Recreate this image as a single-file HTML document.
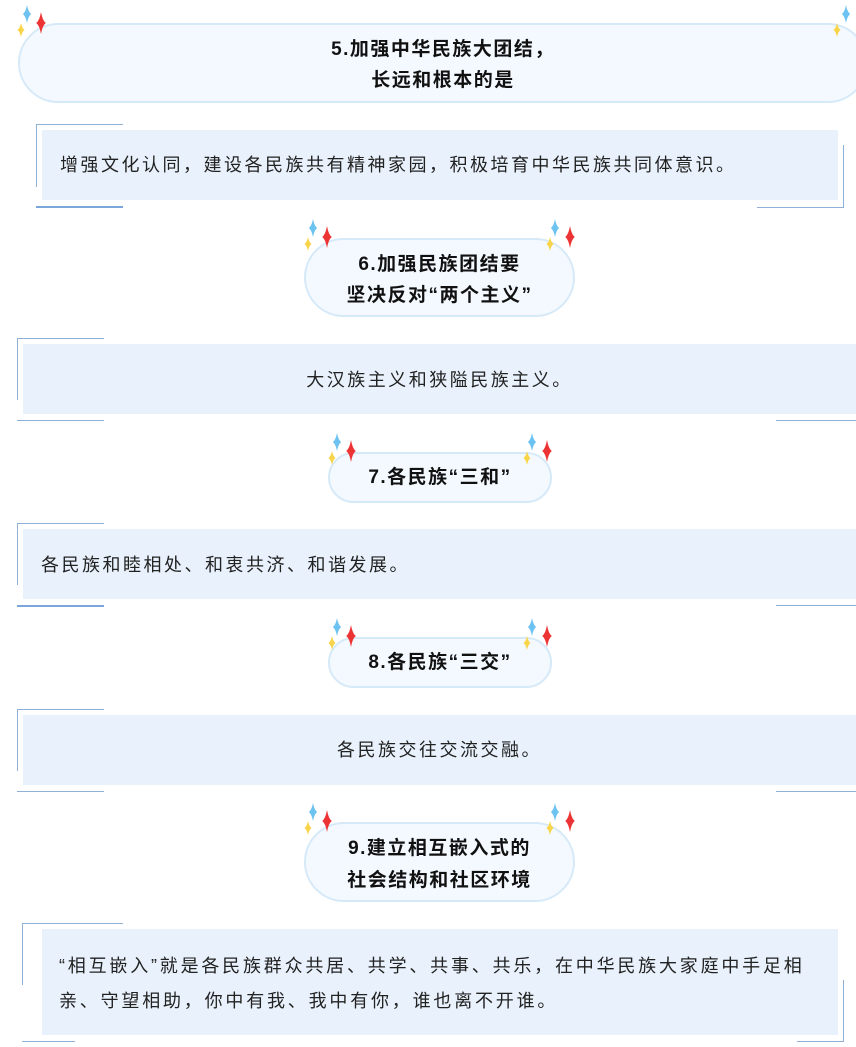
<!DOCTYPE html>
<html><head><meta charset="utf-8"><style>
body{margin:0;width:856px;height:1047px;background:#fff;position:relative;overflow:hidden;font-family:"Liberation Sans","Noto Sans CJK SC",sans-serif;color:#111}
.a{position:absolute}
.pill{position:absolute;box-sizing:border-box;background:#f3f9fe;border:2px solid #d6e9f8;border-radius:40px;text-align:center;font-weight:bold;font-size:19px;letter-spacing:1.5px;color:#111}
.box{position:absolute;background:#e9f2fc;font-size:18px;letter-spacing:2.5px;color:#222;white-space:nowrap}
.h{position:absolute;height:1px;background:#8fb1d8}
.v{position:absolute;width:1px;background:#8fb1d8}
</style></head><body>
<svg width="0" height="0" style="position:absolute"><defs>
<path id="st" d="M0,-1 Q0.2,-0.2 0.6,0 Q0.2,0.2 0,1 Q-0.2,0.2 -0.6,0 Q-0.2,-0.2 0,-1Z"/>
</defs></svg>

<div class="pill" style="left:18px;top:23px;width:850px;height:80px;padding-top:9px;line-height:31px">5.加强中华民族大团结，<br>长远和根本的是</div>

<div class="box" style="left:42px;top:130px;width:796px;height:70px;line-height:70px;padding-left:18px;box-sizing:border-box">增强文化认同，建设各民族共有精神家园，积极培育中华民族共同体意识。</div>
<div class="h" style="left:36px;top:124px;width:87px"></div>
<div class="v" style="left:36px;top:124px;height:63px"></div>
<div class="h" style="left:36px;top:206px;width:87px;height:2px;background:#7aa6dc"></div>
<div class="v" style="left:843px;top:145px;height:62px"></div>
<div class="h" style="left:757px;top:207px;width:87px"></div>

<div class="pill" style="left:304px;top:238px;width:271px;height:79px;padding-top:9px;line-height:31px">6.加强民族团结要<br>坚决反对“两个主义”</div>

<div class="box" style="left:23px;top:344px;width:833px;height:70px;line-height:72px;text-align:center">大汉族主义和狭隘民族主义。</div>
<div class="h" style="left:17px;top:338px;width:87px"></div>
<div class="v" style="left:17px;top:338px;height:62px"></div>
<div class="h" style="left:17px;top:420px;width:87px"></div>
<div class="h" style="left:776px;top:420px;width:80px"></div>

<div class="pill" style="left:328px;top:452px;width:224px;height:51px;line-height:47px">7.各民族“三和”</div>

<div class="box" style="left:23px;top:529px;width:833px;height:70px;line-height:72px;padding-left:18px;box-sizing:border-box">各民族和睦相处、和衷共济、和谐发展。</div>
<div class="h" style="left:17px;top:523px;width:87px"></div>
<div class="v" style="left:17px;top:523px;height:62px"></div>
<div class="h" style="left:17px;top:605px;width:87px;height:2px;background:#7aa6dc"></div>
<div class="h" style="left:776px;top:605px;width:80px"></div>

<div class="pill" style="left:328px;top:637px;width:224px;height:51px;line-height:47px">8.各民族“三交”</div>

<div class="box" style="left:23px;top:715px;width:833px;height:70px;line-height:70px;text-align:center">各民族交往交流交融。</div>
<div class="h" style="left:17px;top:709px;width:87px"></div>
<div class="v" style="left:17px;top:709px;height:62px"></div>
<div class="h" style="left:17px;top:791px;width:87px"></div>
<div class="h" style="left:776px;top:791px;width:80px"></div>

<div class="pill" style="left:304px;top:822px;width:271px;height:80px;padding-top:9px;line-height:32px">9.建立相互嵌入式的<br>社会结构和社区环境</div>

<div class="box" style="left:42px;top:929px;width:796px;height:106px;padding:20px 0 0 17px;box-sizing:border-box;line-height:35px;letter-spacing:2.8px">“相互嵌入”就是各民族群众共居、共学、共事、共乐，在中华民族大家庭中手足相<br>亲、守望相助，你中有我、我中有你，谁也离不开谁。</div>
<div class="h" style="left:22px;top:923px;width:101px"></div>
<div class="v" style="left:22px;top:923px;height:62px"></div>
<div class="h" style="left:22px;top:1041px;width:53px"></div>
<div class="v" style="left:843px;top:980px;height:61px"></div>
<div class="h" style="left:797px;top:1041px;width:47px"></div>

<svg class="a" style="left:0;top:0" width="856" height="1047">
<g fill="#6cc2f0">
<use href="#st" transform="translate(27,14) scale(7,9)"/>
<use href="#st" transform="translate(846,14) scale(7,9)"/>
<use href="#st" transform="translate(313,228) scale(7,9)"/>
<use href="#st" transform="translate(555,228) scale(7,9)"/>
<use href="#st" transform="translate(337,442) scale(7,9)"/>
<use href="#st" transform="translate(532,442) scale(7,9)"/>
<use href="#st" transform="translate(337,627) scale(7,9)"/>
<use href="#st" transform="translate(532,627) scale(7,9)"/>
<use href="#st" transform="translate(313,812) scale(7,9)"/>
<use href="#st" transform="translate(555,812) scale(7,9)"/>
</g>
<g fill="#ec3434">
<use href="#st" transform="translate(41,23) scale(8,11)"/>
<use href="#st" transform="translate(327,237) scale(8,11)"/>
<use href="#st" transform="translate(570,237) scale(8,11)"/>
<use href="#st" transform="translate(351,451) scale(8,11)"/>
<use href="#st" transform="translate(547,451) scale(8,11)"/>
<use href="#st" transform="translate(351,636) scale(8,11)"/>
<use href="#st" transform="translate(547,636) scale(8,11)"/>
<use href="#st" transform="translate(327,821) scale(8,11)"/>
<use href="#st" transform="translate(570,821) scale(8,11)"/>
</g>
<g fill="#f8d548">
<use href="#st" transform="translate(21,30) scale(6,7)"/>
<use href="#st" transform="translate(837,30) scale(6,7)"/>
<use href="#st" transform="translate(308,244) scale(6,7)"/>
<use href="#st" transform="translate(550,244) scale(6,7)"/>
<use href="#st" transform="translate(332,458) scale(6,7)"/>
<use href="#st" transform="translate(527,458) scale(6,7)"/>
<use href="#st" transform="translate(332,643) scale(6,7)"/>
<use href="#st" transform="translate(527,643) scale(6,7)"/>
<use href="#st" transform="translate(308,828) scale(6,7)"/>
<use href="#st" transform="translate(550,828) scale(6,7)"/>
</g>
</svg>
</body></html>
